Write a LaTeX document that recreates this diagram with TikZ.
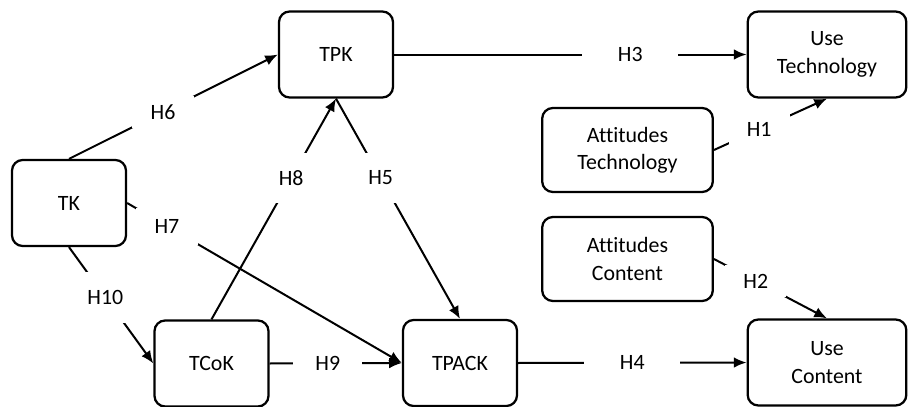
\documentclass[tikz,border=0pt]{standalone}
\usepackage{fontspec}
\setmainfont{Carlito}[Ligatures=NoCommon]
\usetikzlibrary{arrows.meta}
\tikzset{
    box/.style={draw, line width=1.7pt, rounded corners=8pt, align=center,
        minimum width=85.5pt, minimum height=64.5pt, inner sep=2pt},
    widebox/.style={box, minimum width=119pt},
    attbox/.style={box, minimum width=128pt, minimum height=63pt},
    hyp/.style={fill=white, inner sep=0pt, minimum width=46pt, minimum height=24pt},
    link/.style={line width=1.5pt, -{Latex[length=9.5pt,width=8pt]}},
}

\begin{document}
\begin{tikzpicture}[x=0.75pt, y=-0.75pt, font=\fontsize{16.4}{20.5}\selectfont]
        \useasboundingbox (0,0) rectangle (908,407);
        % constructs
        \node[box] (tk) at (69,203) {TK};
        \node[box] (tpk) at (336,54.5) {TPK};
        \node[box] (tcok) at (211.5,363.5) {TCoK};
        \node[box] (tpack) at (460,363) {TPACK};
        \node[widebox] (usetech) at (827,54.5) {Use\\Technology};
        \node[widebox] (usecont) at (827,362.5) {Use\\Content};
        \node[attbox] (atttech) at (627.5,150) {Attitudes\\Technology};
        \node[attbox] (attcont) at (627.5,259) {Attitudes\\Content};
        % hypotheses
        \draw[link] (tk.north) -- node[hyp, pos=0.45] (h6) {H6} (tpk.west);
        \draw[link] (tk.east) -- node[hyp, pos=0.145, minimum height=28pt] (h7) {H7} (tpack.west);
        \draw[link] (tk.south) -- node[hyp, pos=0.43, minimum height=38pt] (h10) {H10} (tcok.west);
        \draw[link] (tcok.north) -- node[hyp, pos=0.64, minimum height=38pt] (h8) {H8} (tpk.south);
        \draw[link] (tpk.south) -- node[hyp, pos=0.36, minimum height=38pt] (h5) {H5} (tpack.north);
        \draw[link] (tcok.east) -- node[hyp, pos=0.44, minimum width=52pt] (h9) {H9} (tpack.west);
        \draw[link] (tpk.east) -- node[hyp, pos=0.67, minimum width=72pt] (h3) {H3} (usetech.west);
        \draw[link] (tpack.east) -- node[hyp, pos=0.5, minimum width=72pt] (h4) {H4} (usecont.west);
        \draw[link] (atttech.east) -- node[hyp, pos=0.40] (h1) {H1} (usetech.south);
        \draw[link] (attcont.east) -- node[hyp, pos=0.37] (h2) {H2} (usecont.north);
\end{tikzpicture}
\end{document}
